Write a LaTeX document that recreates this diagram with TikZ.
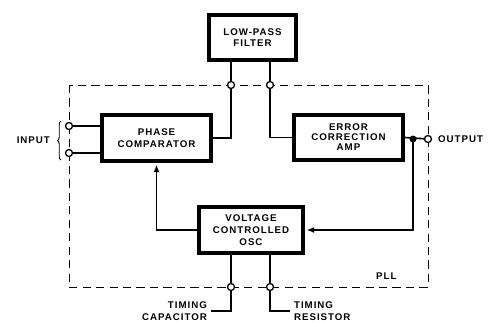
\documentclass[tikz,border=0pt]{standalone}
\usepackage{fontspec}
\newfontfamily\lblfont[LetterSpace=10]{Liberation Sans}
\usetikzlibrary{arrows.meta,decorations.pathreplacing}

\begin{document}
\begin{tikzpicture}[
    x=0.03cm, y=-0.03cm,
    font=\lblfont\bfseries\fontsize{8.3}{10}\selectfont,
    block/.style={draw, line width=3pt, fill=white, align=center, inner sep=0pt},
    term/.style={draw, circle, line width=1.1pt, fill=white, minimum size=0.21cm, inner sep=0pt},
    junct/.style={circle, fill, minimum size=0.21cm, inner sep=0pt},
    wire/.style={line width=1.4pt},
    link/.style={wire, -{Latex[length=2.2mm, width=1.8mm]}, shorten >=1.5pt},
    border/.style={line width=0.7pt, dash pattern=on 7pt off 4.5pt}
]
\useasboundingbox (0,0) rectangle (488,322);
\draw[border] (69,85) rectangle (428,287);
\node[block, minimum width=2.62cm, minimum height=1.36cm] (lpf) at (252.5,37.5) {LOW-PASS\\FILTER};
\node[block, minimum width=3.28cm, minimum height=1.39cm] (pc) at (156.5,138) {PHASE\\COMPARATOR};
\node[block, minimum width=3.28cm, minimum height=1.36cm] (ea) at (348.5,137.5) {ERROR\\[-1.5pt]CORRECTION\\[-1.5pt]AMP};
\node[block, minimum width=3.13cm, minimum height=1.39cm] (vco) at (251,230) {VOLTAGE\\CONTROLLED\\OSC};
\coordinate (t1) at (231,85);
\coordinate (t2) at (270,85);
\coordinate (b1) at (231,287);
\coordinate (b2) at (270,287);
\coordinate (i1) at (69,126);
\coordinate (i2) at (69,153);
\coordinate (out) at (428,139);
\coordinate (dot) at (413,139);
\node[anchor=east] (inlbl) at (54,140) {INPUT};
\node[anchor=west] (outlbl) at (434,139) {OUTPUT};
\node[anchor=west] (pll) at (372,276) {PLL};
\node[anchor=east, align=right] (caplbl) at (211,311) {TIMING\\CAPACITOR};
\node[anchor=west, align=left] (reslbl) at (290,311) {TIMING\\RESISTOR};
\draw[decorate, decoration={brace, amplitude=3pt}, line width=0.8pt] (61,160) -- (61,121);
\draw[wire] (pc.east) -| (t1) -- (t1 |- lpf.south);
\draw[wire] (ea.west) -| (t2) -- (t2 |- lpf.south);
\draw[wire] (ea.east) -- (out);
\draw[link] (dot) |- (vco.east);
\draw[link] (vco.west) -| (pc.south);
\draw[wire] (i1) -- (i1 -| pc.west);
\draw[wire] (i2) -- (i2 -| pc.west);
\draw[wire] (vco.south -| b1) -- (b1) |- (caplbl.east);
\draw[wire] (vco.south -| b2) -- (b2) |- (reslbl.west);
\node[junct] (dotc) at (dot) {};
\foreach \p in {t1,t2,b1,b2,i1,i2,out}
    \node[term] (\p c) at (\p) {};
\end{tikzpicture}
\end{document}
